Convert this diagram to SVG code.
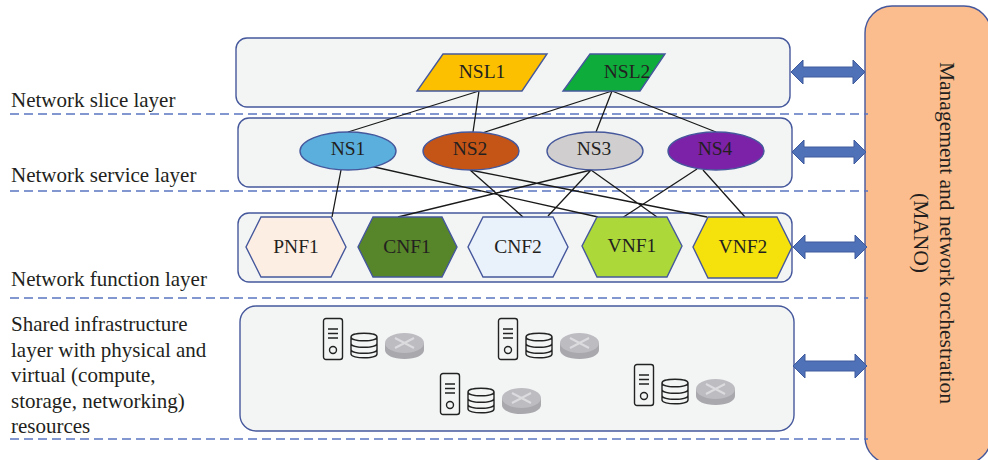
<svg xmlns="http://www.w3.org/2000/svg" xmlns:xlink="http://www.w3.org/1999/xlink" width="988" height="460" viewBox="0 0 988 460">
<style>
text{font-family:"Liberation Serif","Times New Roman",serif;fill:#231f20;font-size:19.500px}
.c{text-anchor:middle}
.lab{font-size:21px}
.mano{font-size:21.500px}
.box{fill:#f3f5f5;stroke:#46589c;stroke-width:1.4}
.sh{stroke:#46589c;stroke-width:1.4}
.dash{stroke:#5a74c0;stroke-width:1.3;stroke-dasharray:9 5;fill:none}
.ln{stroke:#1a1a1a;stroke-width:1.3;fill:none}
.arr{fill:#4f71b8;stroke:#3f5a9c;stroke-width:1}
.ic{fill:none;stroke:#222;stroke-width:1.4}
</style>
<defs>
<path id="dbl" d="M0 0L12 -12V-5H62V-12L74 0L62 12V5H12V12Z"/>
<g id="res">
<rect class="ic" x="0.5" y="0.5" width="19" height="41" rx="2.5"/>
<path class="ic" d="M5 11H15M5 15.500H15M5 20H15"/>
<circle class="ic" cx="10" cy="32" r="3.500"/>
<g transform="translate(28,15)">
<path class="ic" d="M0 4C0 -1 26 -1 26 4V21C26 26 0 26 0 21ZM0 4C0 9 26 9 26 4M0 10.500C0 15.500 26 15.500 26 10.500M0 16.500C0 21.500 26 21.500 26 16.500"/>
</g>
<g transform="translate(62,15)">
<path d="M0 10V17C0 22 8 26 19.500 26S39 22 39 17V10Z" fill="#a9a8ad"/>
<ellipse cx="19.500" cy="10" rx="19.500" ry="10" fill="#bdbcc1"/>
<path d="M10 5L29 15M29 5L10 15" stroke="#dcdcdf" stroke-width="2" fill="none"/>
</g>
</g>
</defs>

<g id="slice-layer"><rect class="box" x="236" y="38" width="554" height="69" rx="11"/></g>
<g id="service-layer"><rect class="box" x="238" y="118" width="554" height="69" rx="11"/></g>
<g id="function-layer"><rect class="box" x="238" y="213" width="554" height="69" rx="11"/></g>
<g id="infrastructure-layer"><rect class="box" x="240" y="306" width="554" height="125" rx="16"/></g>

<g id="mano">
<rect x="865" y="6" width="126" height="458" rx="27" fill="#fbbd8d" stroke="#46589c" stroke-width="1.4"/>
<text class="c mano" transform="translate(940,233) rotate(90)">Management and network orchestration</text>
<text class="c mano" transform="translate(914,233) rotate(90)">(MANO)</text>
</g>

<g id="dashes">
<path class="dash" d="M10 114H868M10 191H868M10 298H868M10 439H868"/>
</g>

<g id="connectors">
<path class="ln" d="M479 91L348 132M479 91L473 132M612 91L482 133M612 91L596 132M612 91L716 132M341 170L332 217M370 166L598 217M470 170L523 217M470 170L707 217M591 170L398 217M591 170L548 216M591 170L657 217M697 169L622 218M703 170L745 217"/>
<use class="arr" xlink:href="#dbl" href="#dbl" transform="translate(791,72)"/>
<use class="arr" xlink:href="#dbl" href="#dbl" transform="translate(792,152)"/>
<use class="arr" xlink:href="#dbl" href="#dbl" transform="translate(793,247)"/>
<use class="arr" xlink:href="#dbl" href="#dbl" transform="translate(793,366)"/>
</g>

<g id="NSL1"><path class="sh" d="M443 54H547L522 91H417Z" fill="#fcc000" stroke="#222"/><text class="c" x="482" y="78">NSL1</text></g>
<g id="NSL2"><path class="sh" d="M590 54H665L640 91H563Z" fill="#0dac3b"/><text class="c" x="627" y="78">NSL2</text></g>

<g id="NS1"><ellipse class="sh" cx="348" cy="151" rx="48" ry="19" fill="#5aafdc"/><text class="c" x="348" y="155">NS1</text></g>
<g id="NS2"><ellipse class="sh" cx="471" cy="151" rx="48" ry="19" fill="#c55516"/><text class="c" x="470" y="155">NS2</text></g>
<g id="NS3"><ellipse class="sh" cx="595" cy="151" rx="48" ry="19" fill="#d0cece"/><text class="c" x="594" y="155">NS3</text></g>
<g id="NS4"><ellipse class="sh" cx="716" cy="151" rx="48" ry="19" fill="#7b22a8"/><text class="c" x="715" y="155">NS4</text></g>

<g id="PNF1"><path class="sh" d="M261 217H331L346 247L331 277H261L246 247Z" fill="#fdeee4"/><text class="c" x="296" y="253">PNF1</text></g>
<g id="CNF1"><path class="sh" d="M373 217H442L457 247L442 277H373L358 247Z" fill="#578529"/><text class="c" x="407" y="253">CNF1</text></g>
<g id="CNF2"><path class="sh" d="M483 217H553L568 247L553 277H483L468 247Z" fill="#e9f1fb"/><text class="c" x="518" y="253">CNF2</text></g>
<g id="VNF1"><path class="sh" d="M597 217H667L682 246L667 277H597L582 246Z" fill="#acd939"/><text class="c" x="632" y="252">VNF1</text></g>
<g id="VNF2"><path class="sh" d="M708 217H777L792 247L777 278H708L693 247Z" fill="#f5e20c"/><text class="c" x="743" y="253">VNF2</text></g>

<g id="resources">
<use xlink:href="#res" href="#res" transform="translate(323,318)"/>
<use xlink:href="#res" href="#res" transform="translate(498,318)"/>
<use xlink:href="#res" href="#res" transform="translate(440,373)"/>
<use xlink:href="#res" href="#res" transform="translate(634,364)"/>
</g>

<g id="labels">
<text class="lab" x="11" y="107">Network slice layer</text>
<text class="lab" x="11" y="182">Network service layer</text>
<text class="lab" x="11" y="286">Network function layer</text>
<text class="lab" x="11" y="331">Shared infrastructure</text>
<text class="lab" x="11" y="357">layer with physical and</text>
<text class="lab" x="11" y="382">virtual (compute,</text>
<text class="lab" x="11" y="408">storage, networking)</text>
<text class="lab" x="11" y="433">resources</text>
</g>
</svg>
